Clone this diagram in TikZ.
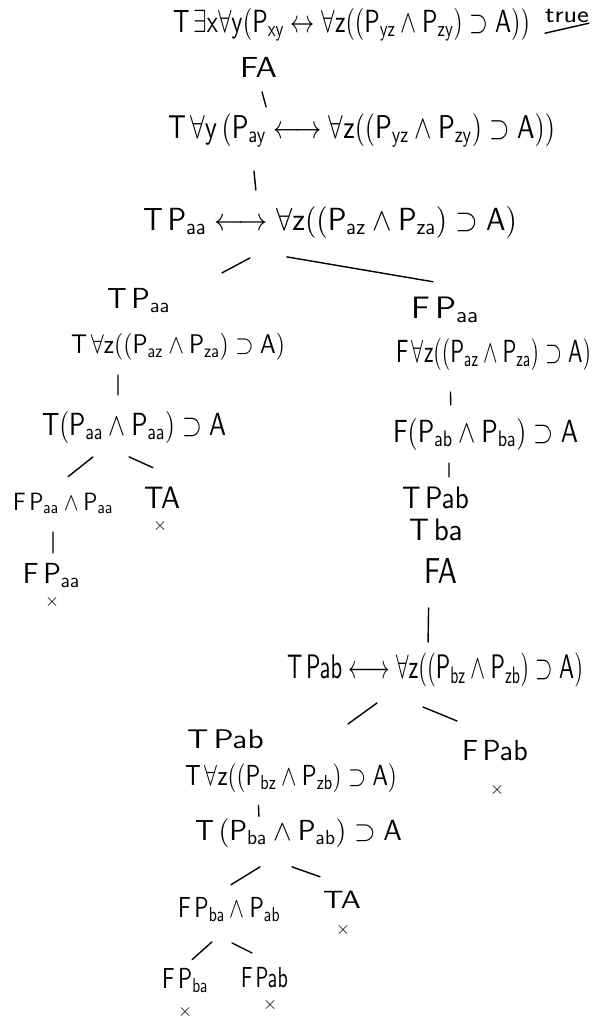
\documentclass[tikz,border=0pt]{standalone}
\usepackage{graphicx}
\usetikzlibrary{calc}
\DeclareFontShape{OT1}{cmr}{m}{n}{<->cmr10}{}
\DeclareFontShape{OT1}{cmss}{m}{n}{<->cmss10}{}
\DeclareFontShape{OML}{cmm}{m}{it}{<->cmmi10}{}
\DeclareFontShape{OMS}{cmsy}{m}{n}{<->cmsy10}{}
\newcommand\hwt[2]{\resizebox{#1pt}{\height}{$\mathsf{#2}$}}
\tikzset{
  hw/.style={inner sep=0pt, outer sep=0pt, anchor=base west, text=black,
             font=\fontsize{#1}{#1}\selectfont},
  cross/.style={inner sep=0pt, outer sep=0pt, anchor=center,
             font=\fontsize{18}{18}\selectfont},
  edge/.style={draw=black, line width=1.4pt, line cap=round}
}
\newcommand\conn[6]{\draw[edge, shorten <=#5pt, shorten >=#6pt]
  ($(#1.south west)!#2!(#1.south east)$) -- ($(#3.north west)!#4!(#3.north east)$);}
\begin{document}
\begin{tikzpicture}[x=1pt,y=-1pt]
\useasboundingbox[fill=white] (0,0) rectangle (596,1020);
% trunk
\node[hw=32] (r1) at (173,32) {\hwt{357}{T\,\exists x\forall y(P_{xy}\leftrightarrow\forall z((P_{yz}\wedge P_{zy})\supset A))}};
\node[hw=24] (tru) at (545,22) {\resizebox{44pt}{\height}{\sffamily true}};
\draw[edge] ([yshift=-11pt]tru.south west) -- ([yshift=-1pt]tru.south east);
\node[hw=29] (r2) at (240,77) {\hwt{37}{FA}};
\node[hw=33] (r3) at (168,138) {\hwt{387}{T\,\forall y\,(P_{ay}\longleftrightarrow\forall z((P_{yz}\wedge P_{zy})\supset A))}};
\node[hw=32] (r4) at (143,230) {\hwt{374}{T\,P_{aa}\longleftrightarrow\forall z((P_{az}\wedge P_{za})\supset A)}};
% left branch
\node[hw=29] (la) at (107,308) {\hwt{63}{T\,P_{aa}}};
\node[hw=27] (lb) at (71,353) {\hwt{214}{T\,\forall z((P_{az}\wedge P_{za})\supset A)}};
\node[hw=32] (lc) at (42,435) {\hwt{184}{T(P_{aa}\wedge P_{aa})\supset A}};
\node[hw=25] (lda) at (13,510) {\hwt{100}{F\,P_{aa}\wedge P_{aa}}};
\node[hw=31] (ldb) at (144,508) {\hwt{36}{TA}};
\node[cross] (xa) at (160,526) {$\times$};
\node[hw=29] (le) at (23,583) {\hwt{57}{F\,P_{aa}}};
\node[cross] (xb) at (52,602) {$\times$};
% right branch
\node[hw=31] (ra) at (411,318) {\hwt{68}{F\,P_{aa}}};
\node[hw=32] (rb) at (396,362) {\hwt{195}{F\,\forall z((P_{az}\wedge P_{za})\supset A)}};
\node[hw=32] (rc) at (393,442) {\hwt{185}{F(P_{ab}\wedge P_{ba})\supset A}};
\node[hw=31] (rd) at (402,508) {\hwt{67}{T\,Pab}};
\node[hw=31] (re) at (409,540) {\hwt{54}{T\,ba}};
\node[hw=36] (rf) at (424,583) {\hwt{33}{FA}};
\node[hw=34] (rg) at (287,678) {\hwt{296}{T\,Pab\longleftrightarrow\forall z((P_{bz}\wedge P_{zb})\supset A)}};
\node[hw=27] (rha) at (187,748) {\hwt{77}{T\,Pab}};
\node[hw=29] (rhb) at (462,760) {\hwt{66}{F\,Pab}};
\node[cross] (xc) at (497,790) {$\times$};
\node[hw=29] (ri) at (185,785) {\hwt{212}{T\,\forall z((P_{bz}\wedge P_{zb})\supset A)}};
\node[hw=29] (rj) at (195,840) {\hwt{207}{T\,(P_{ba}\wedge P_{ab})\supset A}};
\node[hw=29] (rka) at (178,917) {\hwt{102}{F\,P_{ba}\wedge P_{ab}}};
\node[hw=25] (rkb) at (323,908) {\hwt{38}{TA}};
\node[cross] (xd) at (343,930) {$\times$};
\node[hw=29] (rla) at (162,988) {\hwt{46}{F\,P_{ba}}};
\node[hw=29] (rlb) at (241,987) {\hwt{47}{F\,Pab}};
\node[cross] (xe) at (185,1012) {$\times$};
\node[cross] (xf) at (270,1005) {$\times$};
% connectors
\conn{r2}{0.486}{r3}{0.258}{15.5}{6.5}
\conn{r3}{0.216}{r4}{0.306}{23.8}{16}
\conn{r4}{0.386}{la}{1.38}{42.4}{31.8}
\conn{r4}{0.088}{ra}{1.594}{112.6}{87.7}
\conn{lb}{0.2196}{lc}{0.413}{15.25}{16}
\conn{lc}{0.372}{lda}{0.35}{22.4}{25.6}
\conn{lc}{0.307}{ldb}{1.40}{33.6}{45.6}
\conn{lda}{0.40}{le}{0.526}{18.25}{10}
\conn{rb}{0.277}{rc}{0.3135}{22}{13}
\conn{rc}{0.303}{rd}{0.701}{13}{9.5}
\conn{rf}{0.15}{rg}{0.476}{25}{10.5}
\conn{rg}{0.381}{rha}{1.996}{28.1}{9.0}
\conn{rg}{0.291}{rhb}{0.62}{53.9}{49.6}
\conn{ri}{0.344}{rj}{0.309}{13}{2}
\conn{rj}{0.468}{rka}{0.326}{37.4}{23.1}
\conn{rj}{0.201}{rkb}{0.953}{58.7}{41.6}
\conn{rka}{0.558}{rla}{0.454}{30.8}{12.3}
\conn{rka}{0.106}{rlb}{0.826}{48.3}{31.1}
\end{tikzpicture}
\end{document}
